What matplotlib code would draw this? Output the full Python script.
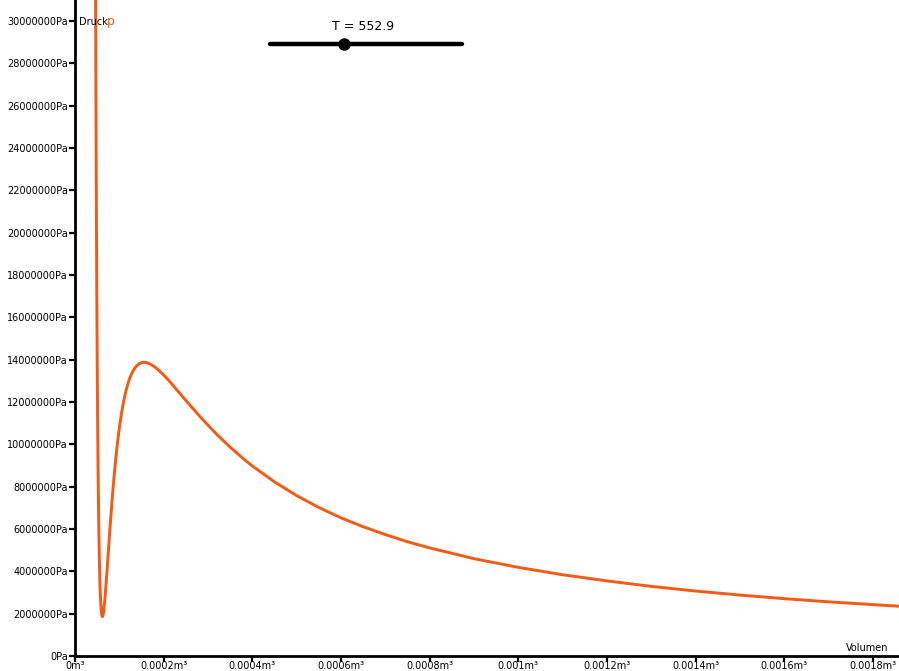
import numpy as np
import matplotlib.pyplot as plt

# volume in 1e-5 m^3 and pressure in MPa
volume_e5 = [4.55, 4.6, 4.7, 4.8, 4.9, 5.0, 5.1, 5.2, 5.3, 5.4, 5.5, 5.6, 5.7, 5.8, 5.9,
             6.0, 6.1, 6.2, 6.3, 6.4, 6.5, 6.7, 6.8, 7.0, 7.25, 7.5, 7.75, 8.0, 8.25, 8.5,
             8.75, 9.0, 9.25, 9.5, 9.75, 10, 10.5, 11, 11.5, 12, 12.5, 13, 13.5, 14, 14.5,
             15, 15.5, 16, 16.5, 17, 17.5, 18, 19, 20, 21, 22, 23, 24, 25, 26, 27, 28, 30,
             32, 35, 38, 40, 45, 50, 55, 60, 65, 70, 75, 80, 90, 100, 110, 120, 130, 140,
             150, 160, 170, 186]
pressure_mpa = [38.8, 34.75, 27.82, 22.24, 17.77, 14.17, 11.29, 8.98, 7.13, 5.68, 4.54, 3.67,
                3.01, 2.53, 2.20, 1.99, 1.89, 1.86, 1.92, 2.02, 2.17, 2.59, 2.83, 3.37, 4.10,
                4.86, 5.61, 6.35, 7.04, 7.71, 8.32, 8.89, 9.43, 9.92, 10.36, 10.77, 11.48,
                12.06, 12.53, 12.91, 13.21, 13.44, 13.60, 13.73, 13.81, 13.86, 13.88, 13.87,
                13.84, 13.79, 13.73, 13.66, 13.48, 13.28, 13.06, 12.82, 12.57, 12.33, 12.08,
                11.84, 11.60, 11.36, 10.91, 10.47, 9.87, 9.32, 8.98, 8.23, 7.58, 7.02, 6.53,
                6.11, 5.74, 5.40, 5.11, 4.60, 4.19, 3.84, 3.55, 3.29, 3.07, 2.88, 2.71, 2.56,
                2.35]

x_ticks = [0, 0.0002, 0.0004, 0.0006, 0.0008, 0.001, 0.0012, 0.0014, 0.0016, 0.0018]
x_labels = ["0m³", "0.0002m³", "0.0004m³", "0.0006m³", "0.0008m³", "0.001m³",
            "0.0012m³", "0.0014m³", "0.0016m³", "0.0018m³"]
y_ticks = list(range(0, 30000001, 2000000))
y_labels = [f"{v}Pa" for v in y_ticks]

T = 552.9
t_min, t_max = 100, 1275

curve_color = "#f35a13"

volume = np.array(volume_e5) * 1e-5
pressure = np.array(pressure_mpa) * 1e6

fig = plt.figure(figsize=(8.99, 6.71), dpi=100)
ax = fig.add_axes([75 / 899, 15 / 671, 1 - 75 / 899, 1 - 15 / 671])

ax.plot(volume, pressure, color=curve_color, lw=2.1, solid_joinstyle="round")
ax.set_xlim(0, 0.001859)
ax.set_ylim(0, 31.0e6)

ax.set_xticks(x_ticks)
ax.set_xticklabels(x_labels)
ax.set_yticks(y_ticks)
ax.set_yticklabels(y_labels)
ax.tick_params(labelsize=7, length=4, width=1.6, pad=1, colors="black")
ax.tick_params(axis="x", pad=-0.5)

for side in ["top", "right"]:
    ax.spines[side].set_visible(False)
for side in ["left", "bottom"]:
    ax.spines[side].set_linewidth(2)

ax.text(4 / 824, 1 - 22 / 656, "Druck", fontsize=7, va="center", ha="left",
        transform=ax.transAxes)
ax.text(32 / 824, 1 - 21 / 656, "p", color=curve_color, fontsize=9, va="center", ha="left",
        transform=ax.transAxes)
ax.text(1 - 11 / 824, 8 / 656, "Volumen", fontsize=7, va="center", ha="right",
        transform=ax.transAxes)

# slider for the temperature
sax = fig.add_axes([270 / 899, 1 - 54 / 671, 192 / 899, 20 / 671])
sax.set_xlim(t_min, t_max)
sax.set_ylim(-1, 1)
sax.axis("off")
sax.plot([t_min, t_max], [0, 0], color="black", lw=3.2, solid_capstyle="round", clip_on=False)
sax.plot([T], [0], "o", color="black", ms=8, clip_on=False)
fig.text(363 / 899, 1 - 26 / 671, f"T = {T}", fontsize=9, ha="center", va="center")

fig.savefig("out.png", dpi=100)
